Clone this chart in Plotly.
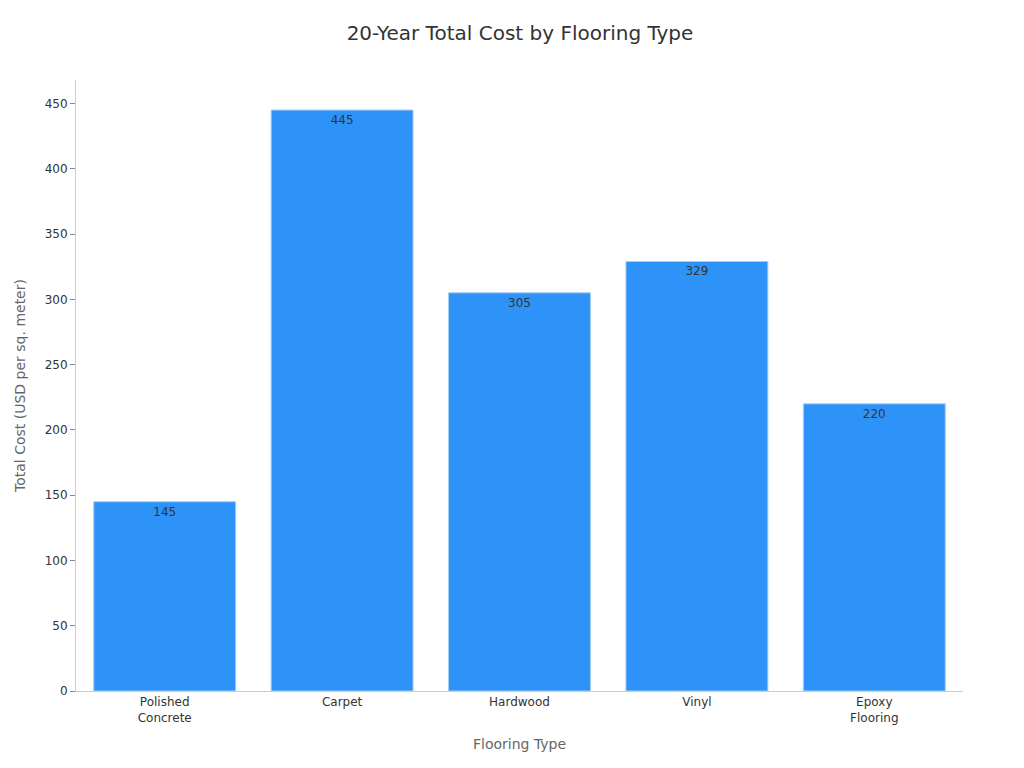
import plotly.graph_objects as go

categories = ["Polished<br>Concrete", "Carpet", "Hardwood", "Vinyl", "Epoxy<br>Flooring"]
values = [145, 445, 305, 329, 220]

fig = go.Figure(go.Bar(
    x=categories, y=values, text=values, textposition="inside",
    insidetextanchor="end",
    textfont=dict(color="#333333", size=12),
    marker=dict(color="#2e93f8", line=dict(color="#a9cdf5", width=1)),
))
fig.update_layout(
    width=1024, height=768,
    paper_bgcolor="white", plot_bgcolor="white",
    font=dict(family="DejaVu Sans", color="#333333", size=12),
    title=dict(text="20-Year Total Cost by Flooring Type", x=0.5, y=0.977,
               xanchor="center", font=dict(size=20, color="#333333")),
    margin=dict(l=60, r=69, t=72, b=85),
    bargap=0.2, showlegend=False,
)
fig.update_xaxes(title=dict(text="Flooring Type", font=dict(color="#666666", size=14)),
                 showline=True, linecolor="#cccccc", ticks="", tickfont=dict(size=12))
fig.update_yaxes(title=dict(text="Total Cost (USD per sq. meter)", font=dict(color="#666666", size=14)),
                 range=[0, 468], dtick=50, showgrid=False, showline=True, linecolor="#cccccc",
                 ticks="outside", ticklen=5, tickcolor="#888888", zeroline=False)
fig.write_html("out.html")
